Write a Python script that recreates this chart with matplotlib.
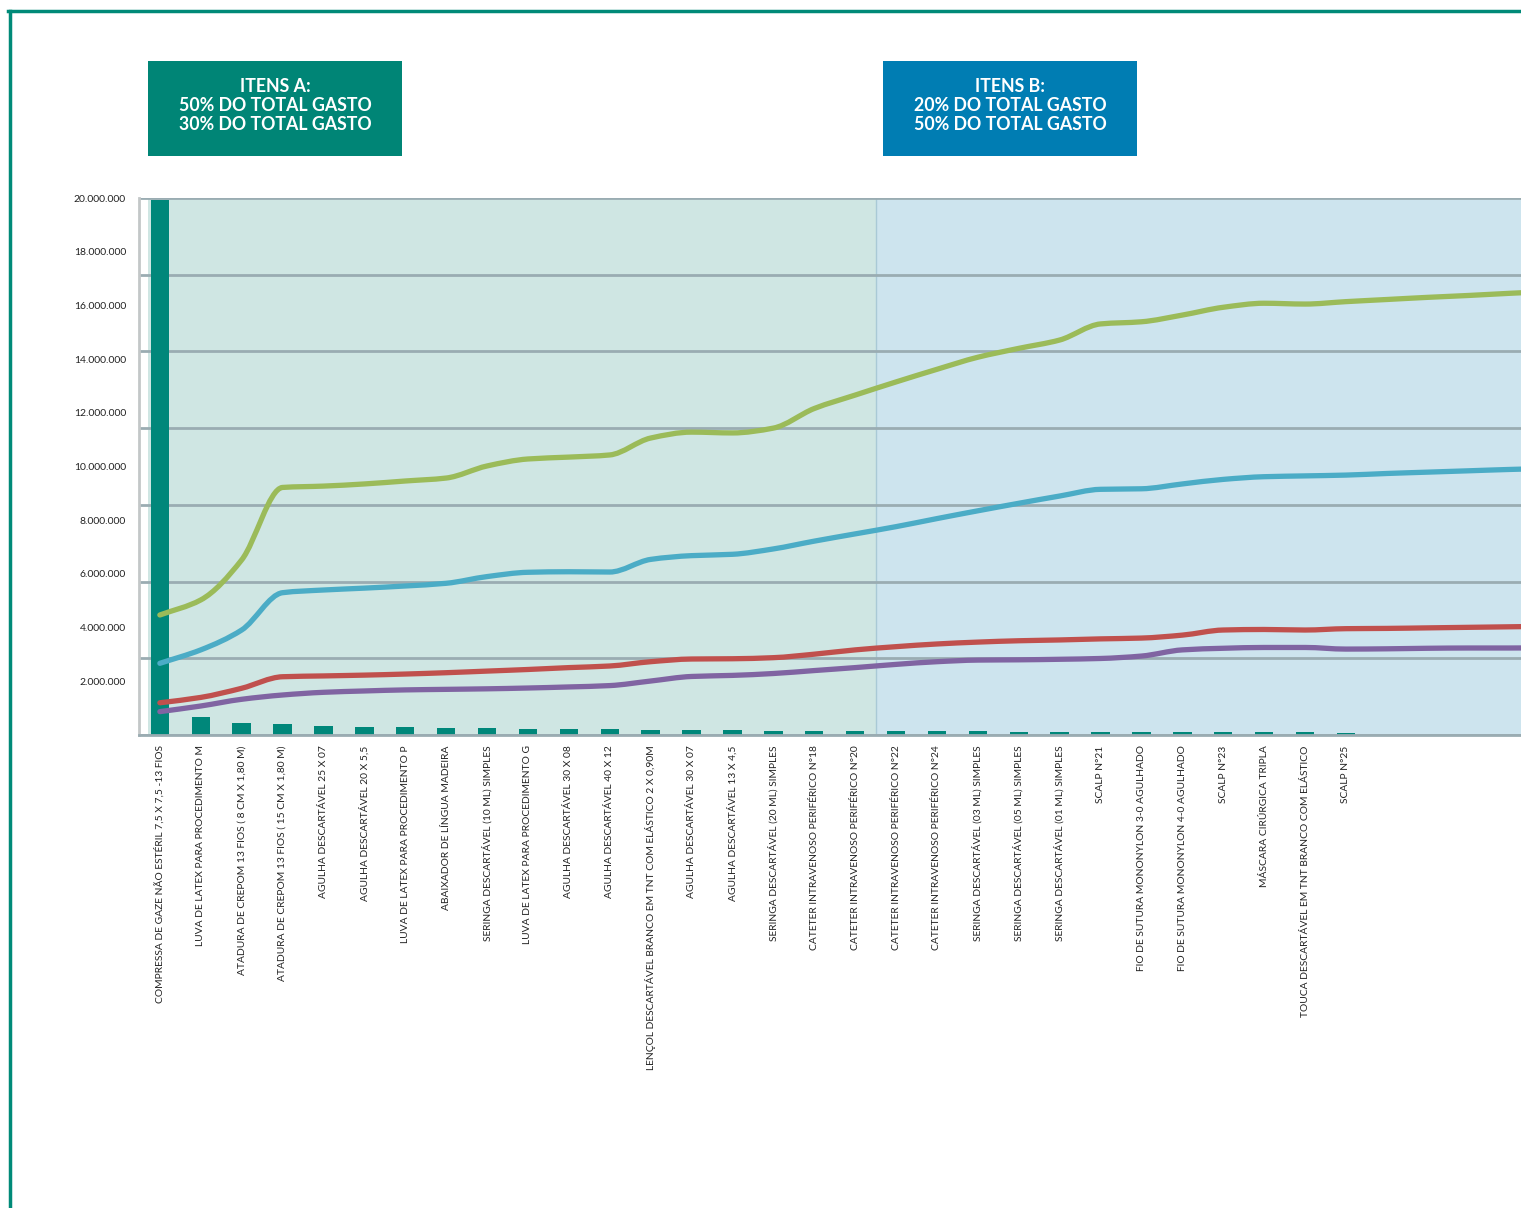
import numpy as np
import matplotlib.pyplot as plt
from matplotlib.patches import Rectangle, PathPatch
from matplotlib.path import Path
from matplotlib.lines import Line2D
from matplotlib.ticker import FuncFormatter

# Item names (x axis)
categories = [
    "COMPRESSA DE GAZE NÃO ESTÉRIL 7,5 X 7,5 -13 FIOS",
    "LUVA DE LATEX PARA PROCEDIMENTO M",
    "ATADURA DE CREPOM 13 FIOS ( 8 CM X 1,80 M)",
    "ATADURA DE CREPOM 13 FIOS ( 15 CM X 1,80 M)",
    "AGULHA DESCARTÁVEL 25 X 07",
    "AGULHA DESCARTÁVEL 20 X 5,5",
    "LUVA DE LATEX PARA PROCEDIMENTO P",
    "ABAIXADOR DE LÍNGUA MADEIRA",
    "SERINGA DESCARTÁVEL (10 ML) SIMPLES",
    "LUVA DE LATEX PARA PROCEDIMENTO G",
    "AGULHA DESCARTÁVEL 30 X 08",
    "AGULHA DESCARTÁVEL 40 X 12",
    "LENÇOL DESCARTÁVEL BRANCO EM TNT COM ELÁSTICO 2 X 0,90M",
    "AGULHA DESCARTÁVEL 30 X 07",
    "AGULHA DESCARTÁVEL 13 X 4,5",
    "SERINGA DESCARTÁVEL (20 ML) SIMPLES",
    "CATETER INTRAVENOSO PERIFÉRICO N°18",
    "CATETER INTRAVENOSO PERIFÉRICO N°20",
    "CATETER INTRAVENOSO PERIFÉRICO N°22",
    "CATETER INTRAVENOSO PERIFÉRICO N°24",
    "SERINGA DESCARTÁVEL (03 ML) SIMPLES",
    "SERINGA DESCARTÁVEL (05 ML) SIMPLES",
    "SERINGA DESCARTÁVEL (01 ML) SIMPLES",
    "SCALP N°21",
    "FIO DE SUTURA MONONYLON 3-0 AGULHADO",
    "FIO DE SUTURA MONONYLON 4-0 AGULHADO",
    "SCALP N°23",
    "MÁSCARA CIRÚRGICA TRIPLA",
    "TOUCA DESCARTÁVEL EM TNT BRANCO COM ELÁSTICO",
    "SCALP N°25",
]

# values in millions
bar_values = [19.93, 0.66, 0.44, 0.40, 0.34, 0.31, 0.29, 0.27, 0.26, 0.24,
              0.22, 0.21, 0.20, 0.18, 0.17, 0.16, 0.155, 0.15, 0.145, 0.14,
              0.135, 0.13, 0.125, 0.12, 0.12, 0.115, 0.11, 0.10, 0.095, 0.09]

# the lines keep going past the last labelled item
line_green = [4.47, 5.03, 6.52, 9.22, 9.27, 9.35, 9.46, 9.57, 10.02, 10.28,
              10.35, 10.43, 11.06, 11.28, 11.25, 11.43, 12.16, 12.66, 13.15, 13.62,
              14.07, 14.40, 14.71, 15.31, 15.39, 15.64, 15.93, 16.08, 16.05, 16.14,
              16.22, 16.30, 16.37, 16.45, 16.52]
line_blue = [2.67, 3.17, 3.91, 5.30, 5.40, 5.47, 5.55, 5.65, 5.90, 6.06,
             6.08, 6.07, 6.54, 6.68, 6.73, 6.93, 7.22, 7.49, 7.76, 8.06,
             8.35, 8.63, 8.90, 9.15, 9.17, 9.35, 9.52, 9.62, 9.65, 9.68,
             9.74, 9.79, 9.84, 9.89, 9.93]
line_red = [1.20, 1.40, 1.74, 2.17, 2.20, 2.23, 2.27, 2.32, 2.38, 2.44,
            2.51, 2.57, 2.73, 2.83, 2.84, 2.88, 3.01, 3.17, 3.29, 3.39,
            3.46, 3.51, 3.54, 3.58, 3.61, 3.72, 3.91, 3.93, 3.91, 3.96,
            3.97, 3.99, 4.01, 4.03, 4.05]
line_purple = [0.87, 1.08, 1.33, 1.49, 1.59, 1.64, 1.68, 1.70, 1.72, 1.75,
               1.79, 1.84, 2.01, 2.18, 2.22, 2.29, 2.40, 2.51, 2.63, 2.73,
               2.79, 2.80, 2.82, 2.85, 2.94, 3.17, 3.23, 3.26, 3.26, 3.20,
               3.21, 3.23, 3.24, 3.24, 3.25]

box_a = ["ITENS A:", "50% DO TOTAL GASTO", "30% DO TOTAL GASTO"]
box_b = ["ITENS B:", "20% DO TOTAL GASTO", "50% DO TOTAL GASTO"]

TEAL = "#00877a"
GRID = "#9aacb2"

plt.rcParams['font.family'] = ['Lato', 'DejaVu Sans']

fig = plt.figure(figsize=(15.21, 12.08), dpi=100)
W, H = 1521, 1208

def fx(px):
    return px / W

def fy(py):
    return 1 - py / H

def smooth_line(ax, xs, ys, color):
    # smoothed line through every point, monotone tangents so no overshoot
    xs = np.asarray(xs, float)
    ys = np.asarray(ys, float)
    n = len(xs)
    h = np.diff(xs)
    d = np.diff(ys) / h
    m = np.zeros(n)
    m[0], m[-1] = d[0], d[-1]
    for k in range(1, n - 1):
        if d[k - 1] * d[k] <= 0:
            m[k] = 0
        else:
            m[k] = 2 / (1 / d[k - 1] + 1 / d[k])
    verts = [(xs[0], ys[0])]
    codes = [Path.MOVETO]
    for i in range(n - 1):
        c1 = (xs[i] + h[i] / 3, ys[i] + m[i] * h[i] / 3)
        c2 = (xs[i + 1] - h[i] / 3, ys[i + 1] - m[i + 1] * h[i] / 3)
        verts += [c1, c2, (xs[i + 1], ys[i + 1])]
        codes += [Path.CURVE4] * 3
    ax.add_patch(PathPatch(Path(verts, codes), facecolor="none", edgecolor=color,
                           lw=3.8, capstyle="round", joinstyle="round", zorder=3))

# frame lines of the page
fig.add_artist(Line2D([fx(8), 1], [fy(11), fy(11)], color="#008a78", lw=2.5))
fig.add_artist(Line2D([fx(9.5), fx(9.5)], [fy(11), 0], color="#008a78", lw=2.5))

# background axis with the grid (7 equal bands) and the coloured zones
ax_bg = fig.add_axes([fx(139), fy(735), 1 - fx(139), fy(198) - fy(735)])
ax = ax_bg.twinx()
ax_bg.set_zorder(0)
ax.set_zorder(1)
ax.patch.set_visible(False)
ax.xaxis.set_visible(True)

x_lines = np.arange(len(line_green))
x_bars = np.arange(len(categories))
xmin, xmax = -0.51, 33.28
split = 17.5

ax_bg.set_xlim(xmin, xmax)
ax_bg.set_ylim(0, 7)
ax_bg.axvspan(-0.29, split, color="#cfe6e3", lw=0)
ax_bg.axvspan(split, xmax + 1, color="#cde4ee", lw=0)
ax_bg.axvline(split, color="#a9c9d6", lw=1)
ax_bg.set_yticks(range(8))
ax_bg.yaxis.grid(True, color=GRID, lw=2)
ax_bg.set_axisbelow(False)
ax_bg.tick_params(axis="y", length=0, labelleft=False, labelright=False)
ax_bg.tick_params(axis="x", length=0, labelbottom=False)
for s in ax_bg.spines.values():
    s.set_visible(False)

# front axis: bars and lines
ax.bar(x_bars, np.array(bar_values) * 1e6, width=0.45, color=TEAL, zorder=2)
smooth_line(ax, x_lines, np.array(line_green) * 1e6, "#9bbb59")
smooth_line(ax, x_lines, np.array(line_blue) * 1e6, "#4bacc6")
smooth_line(ax, x_lines, np.array(line_red) * 1e6, "#c0504d")
smooth_line(ax, x_lines, np.array(line_purple) * 1e6, "#8064a2")

ax.set_xlim(xmin, xmax)
ax.set_ylim(0, 20e6)
ax.yaxis.tick_left()
ax.yaxis.set_label_position("left")
ax.set_yticks(np.arange(2e6, 20e6 + 1, 2e6))
ax.yaxis.set_major_formatter(FuncFormatter(lambda v, p: f"{int(v):,}".replace(",", ".")))
ax.tick_params(axis="y", length=0, pad=9.4, labelsize=7.5, labelcolor="#222222")
ax.set_xticks(x_bars)
ax.set_xticklabels(categories, rotation=90, fontsize=7.35, color="#222222")
ax.tick_params(axis="x", length=0, pad=7.5, labelbottom=True)

for s in ["top", "right"]:
    ax.spines[s].set_visible(False)
ax.spines["left"].set_color("#c3c7c8")
ax.spines["left"].set_linewidth(2)
ax.spines["bottom"].set_color(GRID)
ax.spines["bottom"].set_linewidth(2)

# header boxes
for x0, x1, col, lines in [(148, 402, "#008576", box_a), (883, 1137, "#007db3", box_b)]:
    fig.add_artist(Rectangle((fx(x0), fy(156)), fx(x1) - fx(x0), fy(61) - fy(156),
                             transform=fig.transFigure, color=col, lw=0))
    fig.text(fx((x0 + x1) / 2), fy(105.5), "\n".join(lines), ha="center", va="center",
             color="white", fontsize=12.8, fontweight="bold", linespacing=1.12)

fig.savefig("out.png", dpi=100)
